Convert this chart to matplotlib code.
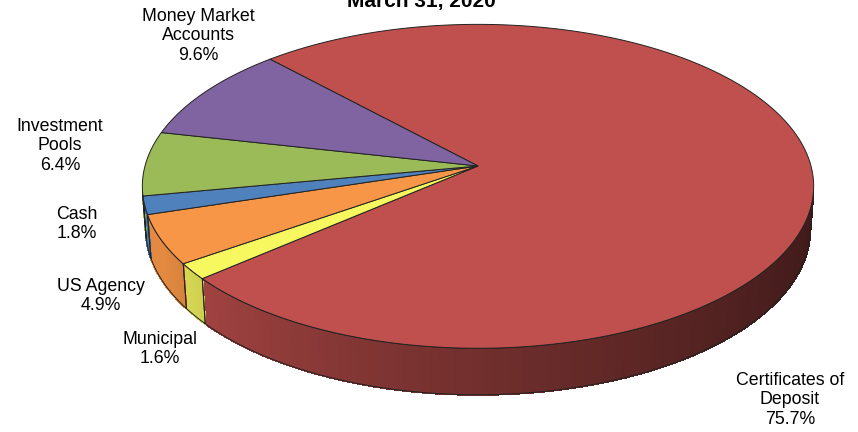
import numpy as np
import matplotlib
matplotlib.use("Agg")
import matplotlib.pyplot as plt
from matplotlib.patches import Polygon
from matplotlib.colors import to_rgb

plt.rcParams["font.family"] = ["Liberation Sans", "DejaVu Sans"]

# Data (clockwise order, starting at the upper-left boundary)
categories = ["Certificates of\nDeposit", "Municipal", "US Agency", "Cash",
              "Investment\nPools", "Money Market\nAccounts"]
shares = [75.7, 1.6, 4.9, 1.8, 6.4, 9.6]
colors = ["#C0504D", "#F7F760", "#F79646", "#4F81BD", "#9BBB59", "#8064A2"]
title = "March 31, 2020"

# label centres in pixels
label_pos = [(790, 400), (160, 349), (101, 296), (77, 224), (60, 146), (198, 36)]

# 3D view settings
start_deg = -43.0       # clockwise from the far side
elev = np.radians(28.6)
dist = 7.0
thick = 0.147
cx, cy, scale = 478, 166, 333
s_e, c_e = np.sin(elev), np.cos(elev)


def proj(theta_deg, r=1.0, z=0.0):
    t = np.radians(theta_deg)
    x = r * np.sin(t)
    y = r * np.cos(t)
    depth = dist + y * c_e - z * s_e
    X = x * dist / depth
    Y = (y * s_e + z * c_e) * dist / depth
    return np.column_stack([cx + scale * X, cy - scale * Y])


def side_shade(theta):
    t = np.clip((theta - 100.0) / 130.0, 0, None)
    return min(0.33 + 0.51 * t ** 1.4, 0.92)


fig = plt.figure(figsize=(8.58, 4.32), dpi=100)
ax = fig.add_axes([0, 0, 1, 1])
ax.set_xlim(0, 858)
ax.set_ylim(432, 0)
ax.axis("off")

# visible part of the outer wall
vis_lo = np.degrees(np.arccos(-1.0 / (dist * c_e)))
vis_hi = 360 - vis_lo

bounds = start_deg + np.concatenate([[0], np.cumsum(shares)]) * 3.6
edge = "#222222"

# side walls
for i, col in enumerate(colors):
    a0, a1 = bounds[i], bounds[i + 1]
    lo, hi = max(a0, vis_lo), min(a1, vis_hi)
    if hi <= lo:
        continue
    base = np.array(to_rgb(col))
    steps = np.linspace(lo, hi, max(int((hi - lo) * 3), 2) + 1)
    for t0, t1 in zip(steps[:-1], steps[1:]):
        top = proj(np.array([t0, t1]))
        bot = proj(np.array([t1, t0]), z=-thick)
        c = base * side_shade((t0 + t1) / 2)
        ax.add_patch(Polygon(np.vstack([top, bot]), closed=True,
                             facecolor=c, edgecolor=c, linewidth=0.8,
                             antialiased=False, zorder=2))
    arc = np.linspace(lo, hi, 100)
    outline = np.vstack([proj(arc), proj(arc[::-1], z=-thick)])
    ax.add_patch(Polygon(outline, closed=True, facecolor="none",
                         edgecolor=edge, linewidth=0.7, zorder=3))

# top faces
for i, col in enumerate(colors):
    arc = np.linspace(bounds[i], bounds[i + 1], 300)
    pts = np.vstack([[cx, cy], proj(arc)])
    ax.add_patch(Polygon(pts, closed=True, facecolor=col,
                         edgecolor=edge, linewidth=0.7, zorder=4))

# labels
for name, val, (lx, ly) in zip(categories, shares, label_pos):
    ax.text(lx, ly, f"{name}\n{val:.1f}%", ha="center", va="center",
            multialignment="center", fontsize=12.8, linespacing=1.16,
            color="black", zorder=5)

ax.text(421, 7, title, ha="center", va="baseline", fontsize=15,
        fontweight="bold", zorder=5)

fig.savefig("out.png", dpi=100)
